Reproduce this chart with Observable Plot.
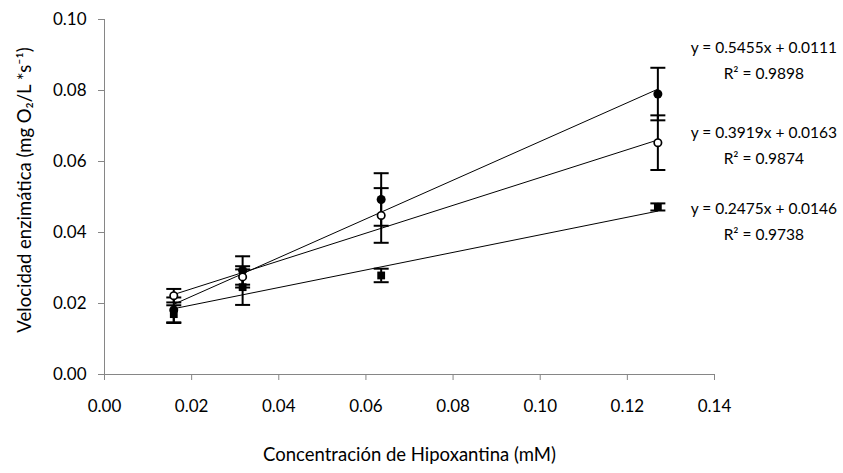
<!DOCTYPE html>
<html><head><meta charset="utf-8">
<script src="https://cdn.jsdelivr.net/npm/d3@7"></script>
<script src="https://cdn.jsdelivr.net/npm/@observablehq/plot@0.6"></script>
<style>html,body{margin:0;padding:0;background:#fff} svg{display:block}</style>
</head><body><div id="chart"></div>
<script>
// Hypoxanthine concentration (mM)
const conc = [0.0159, 0.0317, 0.0635, 0.127];
// Series: filled circles, open circles, filled squares
const filledVals = [0.0182, 0.0293, 0.0493, 0.0790];
const filledErr  = [0.0035, 0.0040, 0.0074, 0.0074];
const openVals   = [0.0222, 0.0275, 0.0448, 0.0653];
const openErr    = [0.0019, 0.0030, 0.0077, 0.0077];
const squareVals = [0.0170, 0.0246, 0.0279, 0.0472];
const squareErr  = [0.0025, 0.0050, 0.0019, 0.0010];
// Trendline equations shown on the chart
const slopes     = [0.5455, 0.3919, 0.2475];
const intercepts = [0.0111, 0.0163, 0.0146];
const r2         = [0.9898, 0.9874, 0.9738];
const xTicks = [0, 0.02, 0.04, 0.06, 0.08, 0.10, 0.12, 0.14];
const yTicks = [0, 0.02, 0.04, 0.06, 0.08, 0.10];
const xTitle = "Concentración de Hipoxantina (mM)";
const yTitle = "Velocidad enzimática (mg O₂/L *s⁻¹)";

const seriesKeys = ["filled", "open", "square"];
const seriesVals = [filledVals, openVals, squareVals];
const seriesErr = [filledErr, openErr, squareErr];

const pts = [];
seriesKeys.forEach((k, s) => conc.forEach((c, i) => pts.push({s: k, x: c, y: seriesVals[s][i], e: seriesErr[s][i]})));
const caps = pts.flatMap(d => [{x: d.x, y: d.y - d.e}, {x: d.x, y: d.y + d.e}]);

const xMin = d3.min(conc), xMax = d3.max(conc);
const trend = seriesKeys.flatMap((k, s) => [xMin, xMax].map(x => ({s: k, x, y: slopes[s] * x + intercepts[s]})));

const labels = seriesKeys.map((k, s) => ({
  x: xMax, y: seriesVals[s][conc.length - 1],
  eq: `y = ${slopes[s].toFixed(4)}x + ${intercepts[s].toFixed(4)}`,
  r: `R² = ${r2[s].toFixed(4)}`
}));
const eqDy = [-46, -10, 2];

const cap = {draw(ctx, size) { const r = Math.sqrt(size / Math.PI); ctx.moveTo(-r, 0); ctx.lineTo(r, 0); }};

const axisGray = "#868686";
const font = "Lato, 'Open Sans', sans-serif";

const labelMarks = labels.flatMap((d, s) => [
  Plot.text([d], {x: "x", y: "y", text: "eq", dx: 106, dy: eqDy[s], fontSize: 15.5, fill: "#000", lineAnchor: "middle", textAnchor: "middle"}),
  Plot.text([d], {x: "x", y: "y", text: "r", dx: 106, dy: eqDy[s] + 26, fontSize: 15.5, fill: "#000", lineAnchor: "middle", textAnchor: "middle"})
]);

const chart = Plot.plot({
  width: 843, height: 473,
  marginLeft: 104, marginRight: 129, marginTop: 19, marginBottom: 99,
  style: {fontFamily: font, fontSize: "17px", color: "#000", background: "#fff", overflow: "visible"},
  x: {domain: [0, 0.14]},
  y: {domain: [0, 0.10]},
  marks: [
    Plot.ruleY([0], {stroke: axisGray, strokeWidth: 1}),
    Plot.ruleX([0], {stroke: axisGray, strokeWidth: 1}),
    Plot.axisX({ticks: xTicks, tickFormat: d3.format(".2f"), tickSize: 6, tickPadding: 19, stroke: axisGray, fill: "#000", label: null}),
    Plot.axisY({ticks: yTicks, tickFormat: d3.format(".2f"), tickSize: 6, tickPadding: 12, stroke: axisGray, fill: "#000", label: null}),
    Plot.text([xTitle], {frameAnchor: "bottom", dy: 81, lineAnchor: "middle", textAnchor: "middle", fontSize: 18.5, fill: "#000"}),
    Plot.text([yTitle], {frameAnchor: "left", dx: -79, dy: -7, rotate: -90, lineAnchor: "middle", textAnchor: "middle", fontSize: 18.5, fill: "#000"}),
    Plot.line(trend, {x: "x", y: "y", z: "s", stroke: "#000", strokeWidth: 1}),
    Plot.ruleX(pts, {x: "x", y1: d => d.y - d.e, y2: d => d.y + d.e, stroke: "#000", strokeWidth: 2}),
    Plot.dot(caps, {x: "x", y: "y", symbol: cap, r: 7.5, stroke: "#000", strokeWidth: 2, fill: "none"}),
    Plot.dot(pts.filter(d => d.s === "square"), {x: "x", y: "y", symbol: "square", r: 4.4, fill: "#000", stroke: "none"}),
    Plot.dot(pts.filter(d => d.s === "filled"), {x: "x", y: "y", r: 4.5, fill: "#000", stroke: "none"}),
    Plot.dot(pts.filter(d => d.s === "open"), {x: "x", y: "y", r: 3.7, fill: "#fff", stroke: "#000", strokeWidth: 1.7}),
    ...labelMarks
  ]
});
document.getElementById("chart").appendChild(chart);
</script>
</body></html>
